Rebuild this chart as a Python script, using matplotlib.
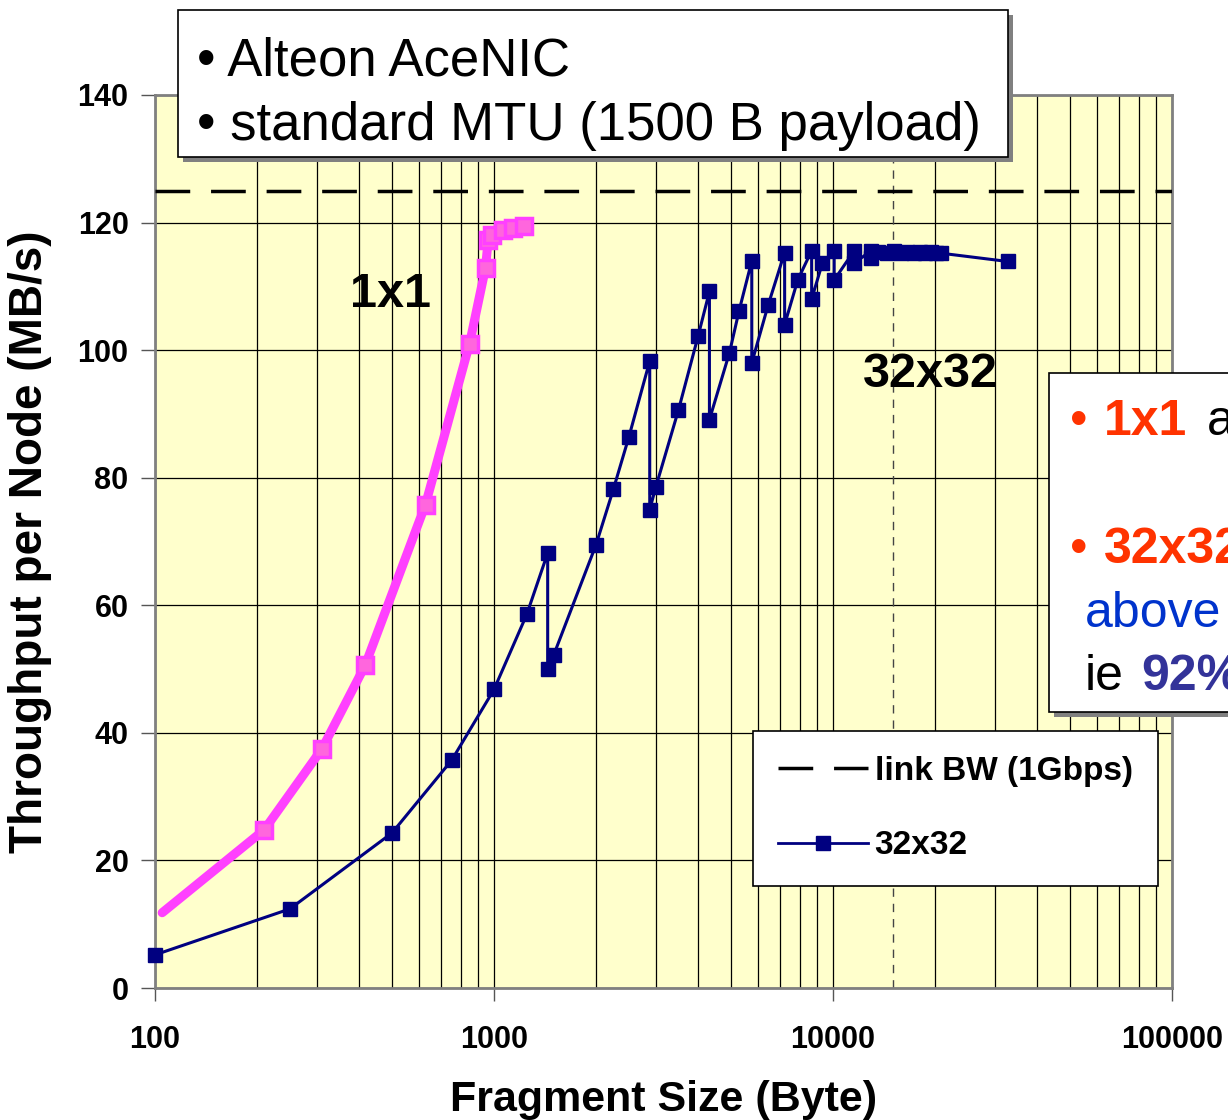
import matplotlib
matplotlib.use('Agg')
import matplotlib.pyplot as plt
from matplotlib.patches import Rectangle
from matplotlib.lines import Line2D
from matplotlib.ticker import FixedLocator, LogLocator, NullFormatter

plt.rcParams['font.family'] = ['Liberation Sans', 'DejaVu Sans']

# 1x1 series
size_1x1 = [105, 210, 311, 417, 628, 847, 944, 961, 985, 1060, 1140, 1222]
tput_1x1 = [11.8, 24.8, 37.5, 50.6, 75.8, 101.0, 112.9, 117.2, 118.0, 118.8, 119.2, 119.4]

# 32x32 series
size_32 = [100, 250, 500, 750, 1000, 1250, 1440, 1440, 1500, 2000, 2250, 2500,
           2880, 2880, 3000, 3500, 4000, 4320, 4320, 4950, 5280, 5760, 5760,
           6440, 7200, 7200, 7870, 8650, 8650, 9310, 10080, 10080, 11520, 11520,
           12960, 12960, 13600, 14400, 15100, 15840, 16500, 17280, 18000, 18720,
           19400, 20160, 20800, 32768]
tput_32 = [5.2, 12.4, 24.3, 35.7, 46.8, 58.6, 68.2, 50.0, 52.2, 69.5, 78.2, 86.4,
           98.3, 75.0, 78.5, 90.6, 102.2, 109.2, 89.1, 99.6, 106.1, 114.0, 98.0,
           107.1, 115.3, 104.0, 111.0, 115.6, 108.0, 113.7, 115.6, 111.0, 115.5, 113.6,
           115.6, 114.4, 115.4, 115.3, 115.5, 115.3, 115.4, 115.3, 115.4, 115.3,
           115.4, 115.3, 115.2, 113.9]

link_bw = 125
mtu_mark = 15000
xtick_vals = [100, 1000, 10000, 100000]
xtick_labels = ['100', '1000', '10000', '100000']
ytick_vals = [0, 20, 40, 60, 80, 100, 120, 140]

W, H = 1228, 1120
fig = plt.figure(figsize=(W / 100, H / 100), dpi=100)
ax = fig.add_axes([155 / W, 1 - 988 / H, (1172 - 155) / W, (988 - 95) / H])
ax.set_facecolor('#FFFFCC')
ax.set_xscale('log')
ax.set_xlim(100, 100000)
ax.set_ylim(0, 140)

ax.xaxis.set_major_locator(FixedLocator(xtick_vals))
ax.xaxis.set_minor_locator(LogLocator(base=10, subs=range(2, 10)))
ax.xaxis.set_minor_formatter(NullFormatter())
ax.set_xticklabels(xtick_labels)
ax.set_yticks(ytick_vals)

ax.grid(which='both', axis='x', color='black', lw=0.9)
ax.grid(which='major', axis='y', color='black', lw=0.9)
ax.set_axisbelow(True)

ax.tick_params(axis='x', which='major', direction='out', length=9, width=1,
               color='#555555', pad=18, labelsize=22)
ax.tick_params(axis='x', which='minor', length=0)
ax.tick_params(axis='y', direction='out', length=10, width=1,
               color='#555555', pad=9, labelsize=22)
for lbl in ax.get_xticklabels() + ax.get_yticklabels():
    lbl.set_fontweight('bold')

for s in ax.spines.values():
    s.set_color('#808080')
    s.set_linewidth(2)

# link bandwidth and MTU marker
ax.axhline(link_bw, color='black', lw=2.5, dashes=(10, 6), zorder=3)
ax.axvline(mtu_mark, color='#444444', lw=1, dashes=(6, 5), zorder=2)

ax.plot(size_1x1, tput_1x1, color='#FF40FF', lw=6.5, marker='s', ms=11,
        mfc='#FF66DD', mec='#FF40FF', mew=2.5, markevery=list(range(1, len(size_1x1))),
        solid_capstyle='round', zorder=4)
ax.plot(size_32, tput_32, color='#000080', lw=2.2, marker='s', ms=10,
        mfc='#000080', mec='#000080', zorder=5, clip_on=False)

ax.text(377, 106.7, '1x1', fontsize=35, fontweight='bold', va='baseline')
ax.text(12280, 94.2, '32x32', fontsize=35, fontweight='bold', va='baseline')

ax.set_ylabel('Throughput per Node (MB/s)', fontsize=33, fontweight='bold')
ax.yaxis.set_label_coords(-0.101, 0.5)
ax.set_xlabel('Fragment Size (Byte)', fontsize=31, fontweight='bold')
ax.xaxis.set_label_coords(0.5, -0.103)

leg_line = Line2D([], [], color='black', lw=2.5, dashes=(10, 6))
leg_32 = Line2D([], [], color='#000080', lw=2, marker='s', ms=10)
leg = ax.legend([leg_line, leg_32], ['link BW (1Gbps)', '32x32'],
                loc='upper left', bbox_to_anchor=(753 / W, 1 - 731 / H),
                bbox_transform=fig.transFigure, borderaxespad=0,
                prop={'size': 24, 'weight': 'bold'}, fancybox=False,
                edgecolor='black', framealpha=1, borderpad=0.75,
                labelspacing=1.3, handlelength=2.7, handletextpad=0.2)
leg.get_frame().set_linewidth(1.2)


def fig_box(x0, y0, x1, y1):
    shadow = Rectangle((x0 / W + 5 / W, 1 - y1 / H - 5 / H), (x1 - x0) / W, (y1 - y0) / H,
                       transform=fig.transFigure, facecolor='#808080', edgecolor='none', zorder=5)
    box = Rectangle((x0 / W, 1 - y1 / H), (x1 - x0) / W, (y1 - y0) / H,
                    transform=fig.transFigure, facecolor='white', edgecolor='black',
                    lw=1.2, zorder=6)
    fig.add_artist(shadow)
    fig.add_artist(box)


def fig_txt(x, y, s, **kw):
    fig.text(x / W, 1 - y / H, s, va='baseline', zorder=7, **kw)


fig_box(178, 10, 1008, 157)
fig_txt(197, 76, '• Alteon AceNIC', fontsize=38)
fig_txt(197, 140, '• standard MTU (1500 B payload)', fontsize=38)

# right-hand note box, runs off the slide edge as in the original
fig_box(1049, 373, 1260, 712)
fig_txt(1070, 435, '•', fontsize=36, color='#FF3300')
fig_txt(1104, 435, '1x1', fontsize=36, color='#FF3300', fontweight='bold')
fig_txt(1207, 435, 'a', fontsize=36, color='black')
fig_txt(1070, 563, '•', fontsize=36, color='#FF3300')
fig_txt(1104, 563, '32x32', fontsize=36, color='#FF3300', fontweight='bold')
fig_txt(1085, 627, 'above', fontsize=36, color='#0033CC')
fig_txt(1085, 690, 'ie', fontsize=36, color='black')
fig_txt(1141, 690, '92%', fontsize=36, color='#333399', fontweight='bold')

fig.savefig('out.png', dpi=100)
